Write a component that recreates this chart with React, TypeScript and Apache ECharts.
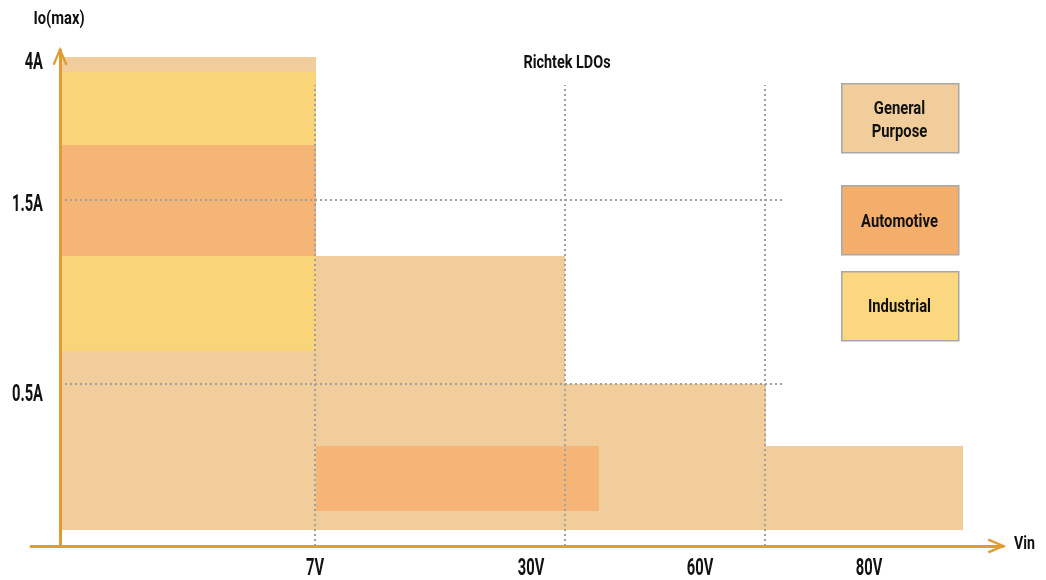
import React, { useEffect, useRef } from "react";
import * as echarts from "echarts";

// ---- data (abstract units: x = Vin position, y = Io(max) position) ----
const RECT_CATEGORY = ["General Purpose", "Industrial", "Automotive", "General Purpose", "General Purpose", "General Purpose", "Automotive"];
const RECT_X0 = [0, 0, 0, 25.6, 50.5, 70.6, 25.6];
const RECT_X1 = [25.6, 25.6, 25.6, 50.5, 70.6, 90.3, 53.9];
const RECT_Y0 = [1.6, 19.5, 29.0, 1.6, 1.6, 1.6, 3.5];
const RECT_Y1 = [48.9, 47.4, 40.1, 29.0, 16.2, 10.0, 10.0];

const X_TICK_LABELS = ["7V", "30V", "60V", "80V"];
const X_TICK_POS = [25.5, 47.1, 64.0, 80.9];
const Y_TICK_LABELS = ["4A", "1.5A", "0.5A"];
const Y_TICK_POS = [48.6, 34.4, 15.4];

const V_GUIDES = [25.5, 50.5, 70.5];
const V_GUIDE_TOP = 46.1;
const H_GUIDES = [34.6, 16.2];
const H_GUIDE_END = 72.5;

const LEGEND_NAMES = ["General Purpose", "Automotive", "Industrial"];
const LEGEND_LABELS = ["General\nPurpose", "Automotive", "Industrial"];

const COLORS: Record<string, string> = {
  "General Purpose": "#F0CD9B",
  Industrial: "#FAD479",
  Automotive: "#F5B577",
};
const LEGEND_COLORS: Record<string, string> = {
  "General Purpose": "#F0CD9B",
  Industrial: "#FBD77F",
  Automotive: "#F4AE6C",
};

const FONT = "Roboto, 'Noto Sans', sans-serif";
const AXIS_COLOR = "#E09C32";
const ARROW = "path://M7.5,0 L15,17.5 L12.8,18.5 L7.5,5.5 L2.2,18.5 L0,17.5 Z";
const TEXT_COLOR = "#111";

export default function App() {
  const ref = useRef<HTMLDivElement>(null);
  useEffect(() => {
    if (!ref.current) return;
    const chart = echarts.init(ref.current, undefined, { renderer: "svg" });

    const rectData = RECT_CATEGORY.map((c, i) => ({
      name: c,
      value: [RECT_X0[i], RECT_X1[i], RECT_Y0[i], RECT_Y1[i]],
      itemStyle: { color: COLORS[c] },
    }));

    const guideData = [
      ...V_GUIDES.map((x) => [x, 0, x, V_GUIDE_TOP]),
      ...H_GUIDES.map((y) => [0, y, H_GUIDE_END, y]),
    ];

    const legendTop = [83, 185, 271];
    const legendTextDy = [35.5, 35, 34];
    const graphic: any[] = [];
    LEGEND_NAMES.forEach((n, i) => {
      graphic.push({
        type: "rect",
        left: 841,
        top: legendTop[i],
        shape: { width: 117, height: 69 },
        style: { fill: LEGEND_COLORS[n], stroke: "#A8A8A8", lineWidth: 1.5 },
      });
      graphic.push({
        type: "text",
        x: 899.5,
        y: legendTop[i] + legendTextDy[i],
        scaleX: 0.78,
        style: {
          text: LEGEND_LABELS[i],
          fill: TEXT_COLOR,
          font: `bold 19px ${FONT}`,
          align: "center",
          verticalAlign: "middle",
          lineHeight: 23,
        },
      });
    });
    graphic.push(
      {
        type: "text",
        x: 567,
        y: 61,
        scaleX: 0.76,
        style: { text: "Richtek LDOs", fill: TEXT_COLOR, font: `bold 19px ${FONT}`, align: "center", verticalAlign: "middle" },
      },
      {
        type: "text",
        x: 59,
        y: 18,
        scaleX: 0.82,
        style: { text: "Io(max)", fill: TEXT_COLOR, font: `bold 18px ${FONT}`, align: "center", verticalAlign: "middle" },
      },
      {
        type: "text",
        x: 1014,
        y: 542,
        scaleX: 0.75,
        style: { text: "Vin", fill: TEXT_COLOR, font: `bold 19px ${FONT}`, align: "left", verticalAlign: "middle" },
      }
    );

    const tickText = (text: string, x: number, y: number, align: string) => ({
      type: "text",
      x,
      y,
      scaleX: 0.64,
      style: { text, fill: TEXT_COLOR, font: `bold 23px ${FONT}`, align, verticalAlign: "middle" },
    });

    chart.setOption({
      animation: false,
      textStyle: { fontFamily: FONT },
      grid: { left: 31, right: 43, top: 50, bottom: 34 },
      xAxis: {
        type: "value",
        min: -2.9,
        max: 94.3,
        splitLine: { show: false },
        axisTick: { show: false },
        axisLabel: { show: false },
        axisLine: {
          show: true,
          lineStyle: { color: AXIS_COLOR, width: 3 },
          symbol: ["none", ARROW],
          symbolSize: [15, 18.5],
          symbolOffset: [0, -6],
        },
        z: 10,
      },
      yAxis: {
        type: "value",
        min: 0,
        max: 49.6,
        splitLine: { show: false },
        axisTick: { show: false },
        axisLabel: { show: false },
        axisLine: {
          show: true,
          onZero: true,
          lineStyle: { color: AXIS_COLOR, width: 3 },
          symbol: ["none", ARROW],
          symbolSize: [15, 18.5],
          symbolOffset: [0, -6],
        },
        z: 10,
      },
      graphic,
      series: [
        {
          type: "custom",
          name: "ranges",
          clip: false,
          z: 1,
          data: rectData,
          renderItem: (params: any, api: any) => {
            const p0 = api.coord([api.value(0), api.value(3)]);
            const p1 = api.coord([api.value(1), api.value(2)]);
            return {
              type: "rect",
              shape: { x: p0[0], y: p0[1], width: p1[0] - p0[0], height: p1[1] - p0[1] },
              style: { fill: api.visual("color") },
            };
          },
        },
        {
          type: "custom",
          name: "guides",
          clip: false,
          z: 2,
          data: guideData,
          renderItem: (params: any, api: any) => {
            const a = api.coord([api.value(0), api.value(1)]);
            const b = api.coord([api.value(2), api.value(3)]);
            return {
              type: "line",
              shape: { x1: a[0], y1: a[1], x2: b[0], y2: b[1] },
              style: { stroke: "#A0A0A0", lineWidth: 2, lineDash: [2, 3], fill: null },
            };
          },
        },
        {
          type: "custom",
          name: "yTicks",
          clip: false,
          silent: true,
          z: 3,
          data: Y_TICK_POS.map((v) => [0, v]),
          renderItem: (params: any, api: any) => {
            const p = api.coord([api.value(0), api.value(1)]);
            return tickText(Y_TICK_LABELS[params.dataIndex], p[0] - 17, p[1] + 1, "right");
          },
        },
        {
          type: "custom",
          name: "xTicks",
          clip: false,
          silent: true,
          z: 3,
          data: X_TICK_POS.map((v) => [v, 0]),
          renderItem: (params: any, api: any) => {
            const p = api.coord([api.value(0), api.value(1)]);
            return tickText(X_TICK_LABELS[params.dataIndex], p[0], p[1] + 21, "center");
          },
        },
      ],
    });
    return () => chart.dispose();
  }, []);
  return <div ref={ref} style={{ position: "fixed", left: 0, top: 0, width: 1046, height: 580 }} />;
}
